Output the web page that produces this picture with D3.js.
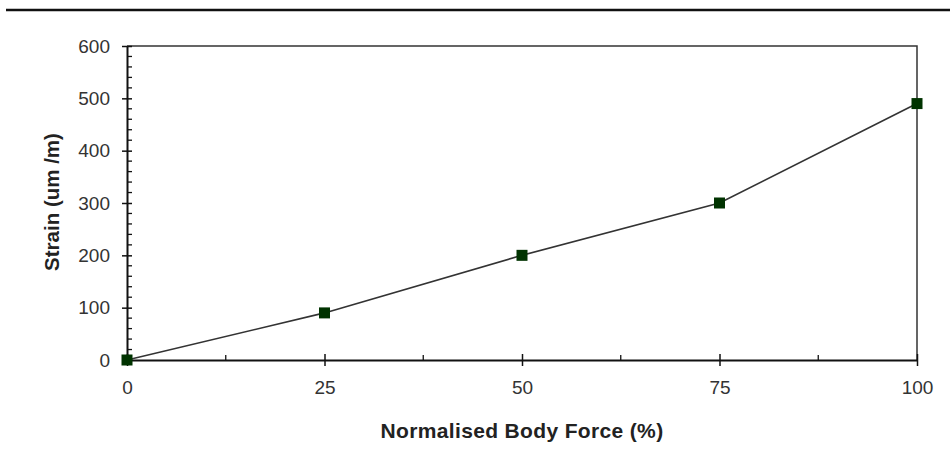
<!DOCTYPE html>
<html>
<head>
<meta charset="utf-8">
<script src="https://cdn.jsdelivr.net/npm/d3@7"></script>
<style>
    body { margin: 0; background: #fff; }
    svg { display: block; font-family: "Liberation Sans", Arial, sans-serif; }
</style>
</head>
<body>
<svg id="chart" width="950" height="473"></svg>
<script>
const forceValues = [0, 25, 50, 75, 100];
const strainValues = [0, 90, 200, 300, 490];
const xTicks = [0, 25, 50, 75, 100];
const xMinorTicks = [12.5, 37.5, 62.5, 87.5];
const yTicks = [0, 100, 200, 300, 400, 500, 600];
const yMinorTicks = d3.range(0, 601, 20).filter((v) => v % 100 !== 0);

const svg = d3.select("#chart");
const margin = { top: 46, right: 33, bottom: 113, left: 127 };
const width = 950, height = 473;

const x = d3.scaleLinear().domain([0, 100]).range([margin.left, width - margin.right]);
const y = d3.scaleLinear().domain([0, 600]).range([height - margin.bottom, margin.top]);

// rule across the top of the page
svg.append("line")
    .attr("x1", 6).attr("x2", width)
    .attr("y1", 10).attr("y2", 10)
    .attr("stroke", "#111").attr("stroke-width", 2.5);

// frame top and right
svg.append("path")
    .attr("d", `M${x(0)},${y(600)}H${x(100)}V${y(0)}`)
    .attr("fill", "none")
    .attr("stroke", "#333")
    .attr("stroke-width", 1.5);

// minor ticks
svg.append("g")
    .selectAll("line")
    .data(yMinorTicks)
    .join("line")
    .attr("x1", x(0)).attr("x2", x(0) + 5)
    .attr("y1", (d) => y(d)).attr("y2", (d) => y(d))
    .attr("stroke", "#111").attr("stroke-width", 1.3);

svg.append("g")
    .selectAll("line")
    .data(xMinorTicks)
    .join("line")
    .attr("x1", (d) => x(d)).attr("x2", (d) => x(d))
    .attr("y1", y(0)).attr("y2", y(0) - 5)
    .attr("stroke", "#111").attr("stroke-width", 1.3);

// y axis
const yAxis = svg.append("g")
    .attr("transform", `translate(${x(0)},0)`)
    .call(d3.axisLeft(y).tickValues(yTicks).tickSize(5).tickPadding(12).tickSizeOuter(0));
yAxis.selectAll(".tick line").attr("x2", 5).attr("x1", -5);
yAxis.select(".domain").attr("stroke-width", 2).attr("stroke", "#111");

// x axis
const xAxis = svg.append("g")
    .attr("transform", `translate(0,${y(0)})`)
    .call(d3.axisBottom(x).tickValues(xTicks).tickSize(6).tickPadding(15).tickSizeOuter(0));
xAxis.selectAll(".tick line").attr("y1", -6).attr("y2", 6);
xAxis.select(".domain").attr("stroke-width", 2).attr("stroke", "#111");

svg.selectAll(".tick line").attr("stroke", "#111").attr("stroke-width", 1.5);
svg.selectAll(".tick text")
    .attr("font-size", 19)
    .attr("font-family", "Liberation Sans, Arial, sans-serif")
    .attr("fill", "#333");

// axis titles
svg.append("text")
    .attr("x", (x(0) + x(100)) / 2)
    .attr("y", 438)
    .attr("text-anchor", "middle")
    .attr("font-size", 21)
    .attr("letter-spacing", 0.35)
    .attr("font-weight", "bold")
    .attr("fill", "#222")
    .text("Normalised Body Force (%)");

svg.append("text")
    .attr("transform", `translate(59,202) rotate(-90)`)
    .attr("text-anchor", "middle")
    .attr("font-size", 20.5)
    .attr("font-weight", "bold")
    .attr("fill", "#222")
    .text("Strain (um /m)");

// data line and markers
const points = forceValues.map((f, i) => ({ force: f, strain: strainValues[i] }));

svg.append("path")
    .datum(points)
    .attr("fill", "none")
    .attr("stroke", "#333")
    .attr("stroke-width", 1.6)
    .attr("d", d3.line().x((d) => x(d.force)).y((d) => y(d.strain)));

svg.selectAll("rect.marker")
    .data(points)
    .join("rect")
    .attr("class", "marker")
    .attr("x", (d) => x(d.force) - 5.5)
    .attr("y", (d) => y(d.strain) - 5.5)
    .attr("width", 11)
    .attr("height", 11)
    .attr("fill", "#003300");
</script>
</body>
</html>
